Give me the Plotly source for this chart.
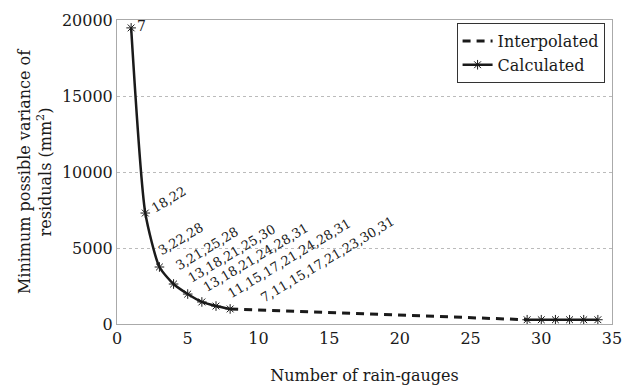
import plotly.graph_objects as go

calc_x1 = [1, 2, 3, 4, 5, 6, 7, 8]
calc_y1 = [19480, 7300, 3750, 2630, 1970, 1450, 1180, 990]
calc_x2 = [29, 30, 31, 32, 33, 34]
calc_y2 = [280, 280, 280, 280, 280, 280]
interp_x = [8, 29]
interp_y = [990, 280]
labels = ["7", "18,22", "3,22,28", "3,21,25,28", "13,18,21,25,30",
          "13,18,21,24,28,31", "11,15,17,21,24,28,31", "7,11,15,17,21,23,30,31"]
x_ticks = [0, 5, 10, 15, 20, 25, 30, 35]
y_ticks = [0, 5000, 10000, 15000, 20000]
y_ticktext = ["0", "5000", "10000", "15000", "20000"]
# pixel offsets of label anchors from their points (style only)
label_dx = [4, 1, -6, -3, -5, -4, 6, 25]
label_dy = [2, -5, 6, 8, 6, 4, 2, 1]

FONT = "DejaVu Serif"
col = "#1a1a1a"

fig = go.Figure()
fig.add_trace(go.Scatter(x=interp_x, y=interp_y, mode="lines", name="Interpolated",
                         line=dict(color=col, width=3, dash="8px,6px")))
fig.add_trace(go.Scatter(x=calc_x1, y=calc_y1, mode="lines+markers", name="Calculated",
                         line=dict(color=col, width=2.5, shape="spline", smoothing=0.6),
                         marker=dict(symbol="asterisk-open", size=8, color=col,
                                     line=dict(width=1, color=col))))
fig.add_trace(go.Scatter(x=calc_x2, y=calc_y2, mode="lines+markers", name="Calculated",
                         showlegend=False,
                         line=dict(color=col, width=2.5),
                         marker=dict(symbol="asterisk-open", size=8, color=col,
                                     line=dict(width=1, color=col))))

for i, t in enumerate(labels):
    if i == 0:
        fig.add_annotation(x=calc_x1[i], y=calc_y1[i], text=t, showarrow=False,
                           xanchor="left", yanchor="middle", xshift=label_dx[i],
                           yshift=label_dy[i],
                           font=dict(family=FONT, size=14, color=col))
    else:
        fig.add_annotation(x=calc_x1[i], y=calc_y1[i], text=t, showarrow=False,
                           xanchor="left", yanchor="bottom", textangle=-31,
                           xshift=label_dx[i], yshift=label_dy[i],
                           font=dict(family=FONT, size=13, color=col))

fig.update_layout(
    width=622, height=390,
    margin=dict(l=117, r=10, t=20, b=66),
    paper_bgcolor="white", plot_bgcolor="white",
    font=dict(family=FONT, size=16, color=col),
    showlegend=True,
    legend=dict(x=0.985, y=0.99, xanchor="right", yanchor="top",
                bgcolor="white", bordercolor="#333", borderwidth=1,
                font=dict(family=FONT, size=16, color=col),
                itemwidth=30, tracegroupgap=0),
    xaxis=dict(range=[0, 35], tickvals=x_ticks, automargin=False,
               ticklabeloverflow="allow",
               showgrid=False, zeroline=False, showline=True, linecolor="#aaa",
               linewidth=1, mirror=True, ticks="",
               title=dict(text="Number of rain-gauges", standoff=22,
                          font=dict(family=FONT, size=16)),
               tickfont=dict(family=FONT, size=16)),
    yaxis=dict(range=[0, 20000], tickvals=y_ticks, ticktext=y_ticktext, automargin=False,
               showgrid=True, gridcolor="#bbb", griddash="dot", gridwidth=1,
               zeroline=False, showline=True, linecolor="#aaa", linewidth=1,
               mirror=True, ticks="",
               title=dict(text="Minimum possible variance of<br>residuals (mm<sup>2</sup>)",
                          standoff=6, font=dict(family=FONT, size=16)),
               tickfont=dict(family=FONT, size=16)),
)

fig.write_html("out.html")
